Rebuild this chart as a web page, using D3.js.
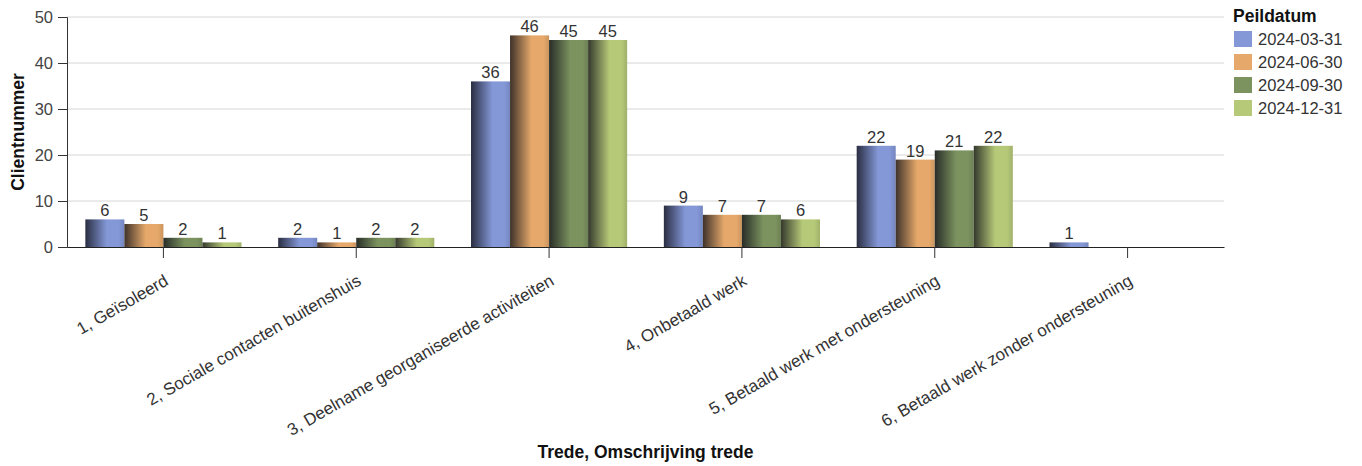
<!DOCTYPE html>
<html><head><meta charset="utf-8">
<script src="https://cdn.jsdelivr.net/npm/d3@7"></script>
<style>body{margin:0;background:#fff;font-family:"Liberation Sans",Arial,sans-serif;}</style>
</head><body><svg id="c" width="1362" height="466"></svg>
<script>
const categories = ["1, Geïsoleerd","2, Sociale contacten buitenshuis","3, Deelname georganiseerde activiteiten","4, Onbetaald werk","5, Betaald werk met ondersteuning","6, Betaald werk zonder ondersteuning"];
const seriesNames = ["2024-03-31","2024-06-30","2024-09-30","2024-12-31"];
const s20240331 = [6,2,36,9,22,1];
const s20240630 = [5,1,46,7,19,null];
const s20240930 = [2,2,45,7,21,null];
const s20241231 = [1,2,45,6,22,null];
const seriesValues = [s20240331,s20240630,s20240930,s20241231];
const colors = ["#8498d8","#e6a96b","#7c935f","#b6c978"];
const yTicks = [0,10,20,30,40,50];

const FONT = "Liberation Sans, Arial, sans-serif";
const svg = d3.select("#c");
const m = {l:67, r:1224, t:17, b:247};
const x = d3.scaleBand().domain(categories).range([m.l,m.r]).paddingInner(0).paddingOuter(0);
const xs = d3.scaleBand().domain(seriesNames).range([0,x.bandwidth()]).paddingOuter(0.47).paddingInner(0);
const y = d3.scaleLinear().domain([0,50]).range([m.b,m.t]);

const defs = svg.append("defs");
colors.forEach((c,i)=>{
  const g = defs.append("linearGradient").attr("id","g"+i).attr("x1","0%").attr("x2","100%");
  const dark = d3.interpolateRgb(c,"#101018")(0.78);
  g.append("stop").attr("offset","0%").attr("stop-color",dark);
  g.append("stop").attr("offset","55%").attr("stop-color",c);
  g.append("stop").attr("offset","85%").attr("stop-color",c);
  g.append("stop").attr("offset","100%").attr("stop-color",d3.interpolateRgb(c,"#000")(0.12));
});

// grid
svg.append("g").selectAll("line").data(yTicks.filter(d=>d>0)).join("line")
  .attr("x1",m.l).attr("x2",m.r).attr("y1",d=>y(d)).attr("y2",d=>y(d))
  .attr("stroke","#d6d6d6").attr("stroke-width",1);

// bars
seriesValues.forEach((vals,si)=>{
  const g = svg.append("g");
  categories.forEach((cat,ci)=>{
    const v = vals[ci];
    if(v==null) return;
    const bx = x(cat)+xs(seriesNames[si]);
    g.append("rect").attr("x",bx).attr("width",xs.bandwidth()).attr("y",y(v)).attr("height",y(0)-y(v))
      .attr("fill","url(#g"+si+")");
    g.append("text").attr("x",bx+xs.bandwidth()/2).attr("y",y(v)-3).attr("text-anchor","middle")
      .attr("font-size",16.5).attr("fill","#333").attr("font-family",FONT).text(v);
  });
});

// y axis
const ya = svg.append("g").attr("transform",`translate(${m.l},0)`)
  .call(d3.axisLeft(y).tickValues(yTicks).tickSize(9).tickPadding(5));
ya.select(".domain").attr("stroke","#333");
ya.selectAll(".tick line").attr("stroke","#333");
ya.selectAll("text").attr("font-size",16.5).attr("fill","#444").attr("font-family",FONT);

// x axis
const xa = svg.append("g").attr("transform",`translate(0,${m.b})`)
  .call(d3.axisBottom(x).tickSize(11).tickSizeOuter(0));
xa.select(".domain").attr("stroke","#222");
xa.selectAll(".tick line").attr("stroke","#333");
xa.selectAll("text").attr("font-size",17).attr("fill","#333").attr("font-family",FONT)
  .attr("text-anchor","end").attr("dy",0).attr("y",0)
  .attr("transform","translate(6,37) rotate(-30)");

// axis titles
svg.append("text").attr("x",(m.l+m.r)/2).attr("y",458).attr("text-anchor","middle").attr("font-family",FONT)
  .attr("font-size",17.5).attr("font-weight","bold").attr("fill","#111").text("Trede, Omschrijving trede");
svg.append("text").attr("transform",`translate(24,${(m.t+m.b)/2}) rotate(-90)`).attr("text-anchor","middle").attr("font-family",FONT)
  .attr("font-size",17.5).attr("font-weight","bold").attr("fill","#111").text("Clientnummer");

// legend
const lg = svg.append("g").attr("font-family",FONT);
lg.append("text").attr("x",1233).attr("y",22).attr("font-size",17.5).attr("font-weight","bold").attr("fill","#111").text("Peildatum");
seriesNames.forEach((s,i)=>{
  lg.append("rect").attr("x",1234).attr("y",31+i*23).attr("width",18).attr("height",16).attr("fill",colors[i]);
  lg.append("text").attr("x",1258).attr("y",45+i*23).attr("font-size",16.5).attr("fill","#333").text(s);
});
</script></body></html>
